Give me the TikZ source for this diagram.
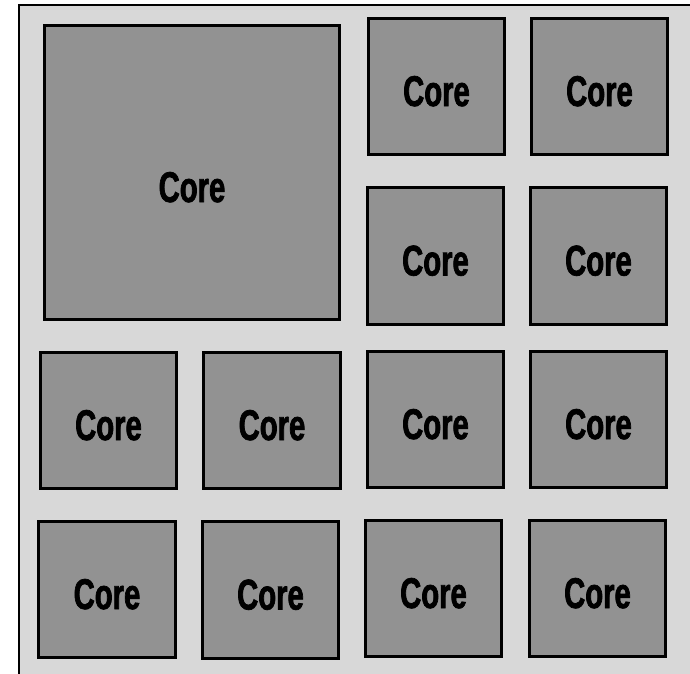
\documentclass[tikz,border=0pt]{standalone}
\usepackage{fontspec}
\setmainfont{Liberation Sans}[FakeStretch=0.68, BoldFeatures={FakeStretch=0.68,FakeBold=1.6}]
\definecolor{chipbg}{HTML}{D8D8D8}
\definecolor{corefill}{HTML}{929292}
\begin{document}
\begin{tikzpicture}[x=1pt,y=-1pt,
  corefont/.style={font=\fontsize{43}{43}\selectfont\bfseries, text height=39pt, text depth=0pt},
  core/.style={draw=black, line width=2.6pt, fill=corefill, minimum width=136.5pt, minimum height=136.5pt, inner sep=0pt, corefont},
  chip/.style={draw=black, line width=2.2pt, fill=chipbg}]
\useasboundingbox (0,0) rectangle (690,673);
\clip (0,0) rectangle (690,673);
\draw[chip] (19,5) rectangle (720,700);
\node[core, minimum width=295.5pt, minimum height=294.5pt] (big) at (192,172.5) {};
\node[corefont, inner sep=0pt] (bigl) at ([yshift=-10pt]big.center) {Core};
\node[core] (a) at (436.5,86.5) {Core};
\node[core] (b) at (599.5,86.5) {Core};
\node[core] (c) at (435.5,256) {Core};
\node[core] (d) at (598.5,256) {Core};
\node[core] (e) at (108.5,420.5) {Core};
\node[core] (f) at (272,420.5) {Core};
\node[core] (g) at (435.5,419.5) {Core};
\node[core] (h) at (598.5,419.5) {Core};
\node[core] (i) at (107,589.5) {Core};
\node[core] (j) at (270.5,590) {Core};
\node[core] (k) at (433.5,588.5) {Core};
\node[core] (l) at (597.5,588.5) {Core};
\end{tikzpicture}
\end{document}
